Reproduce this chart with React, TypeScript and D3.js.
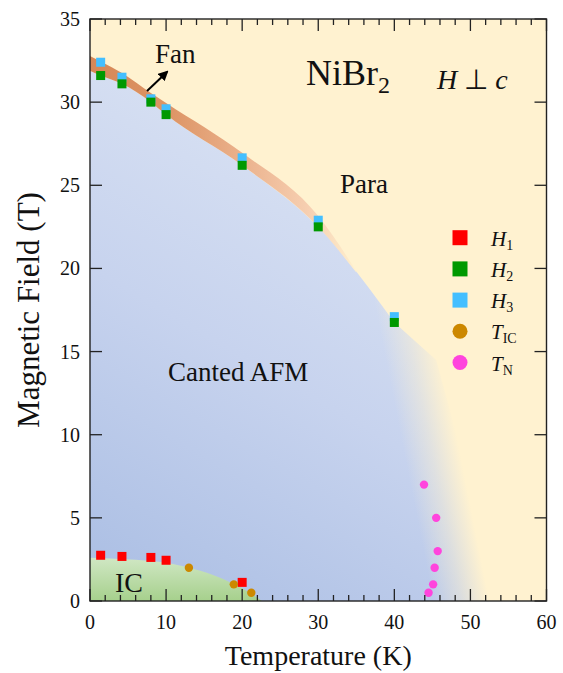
import React from 'react';
import * as d3 from 'd3';

const W = 563;
const H = 673;
const M = { left: 90, right: 16.5, top: 19, bottom: 72 };
const FONT = "'Liberation Serif', 'Times New Roman', serif";
const PARA = '#FFF2D0';

const xTickLabels = [0, 10, 20, 30, 40, 50, 60];
const yTickLabels = [0, 5, 10, 15, 20, 25, 30, 35];

// measured points (Temperature K, Field T)
const h1T = [1.4, 4.2, 8, 10, 20];
const h1H = [2.75, 2.68, 2.62, 2.45, 1.12];
const h23T = [1.4, 4.2, 8, 10, 20, 30, 40];
const h2H = [31.6, 31.1, 30.0, 29.25, 26.2, 22.5, 16.75];
const h3H = [32.4, 31.5, 30.2, 29.6, 26.65, 22.9, 17.1];
const ticT = [13, 18.9, 21.2];
const ticH = [2.0, 1.0, 0.5];
const tnT = [43.9, 45.5, 45.7, 45.3, 45.1, 44.5];
const tnH = [7, 5, 3, 2, 1, 0.5];

// phase boundaries
const afmTopT = [-1, 1.4, 4.2, 8, 10, 20, 30, 40];
const afmTopH = [32.1, 31.6, 31.1, 30.0, 29.25, 26.2, 22.5, 16.75];
const afmEdgeT = [45.5, 50, 55, 56, -1];
const afmEdgeH = [14.5, 7, 0, -1, -1];
// line where the canted phase has fully faded into the paramagnetic colour
const fadeEndT = [46, 52.5];
const fadeEndH = [15, 0];
const fanT = [-1, 1.4, 4.2, 8, 10, 20, 30, 35];
const fanLo = [32.1, 31.6, 31.1, 30.0, 29.25, 26.2, 22.5, 19.75];
const fanHi = [33.0, 32.45, 31.75, 30.55, 29.95, 26.95, 23.15, 19.85];
const icT = [-1, 4, 8, 10, 13, 16, 19, 21, 22.6];
const icH = [2.62, 2.52, 2.4, 2.3, 2.0, 1.6, 1.0, 0.5, 0];
const icBaseT = [22.6, -1];
const icBaseH = [-1, -1];

const legendItems = [
  { main: 'H', sub: '1', color: '#FF0000', shape: 'square' },
  { main: 'H', sub: '2', color: '#009900', shape: 'square' },
  { main: 'H', sub: '3', color: '#44BFFF', shape: 'square' },
  { main: 'T', sub: 'IC', color: '#CC8800', shape: 'circle' },
  { main: 'T', sub: 'N', color: '#FF44DD', shape: 'circle' },
];

export default function App() {
  const x = d3.scaleLinear().domain([0, 60]).range([M.left, W - M.right]);
  const y = d3.scaleLinear().domain([0, 35]).range([H - M.bottom, M.top]);
  const pw = W - M.left - M.right;
  const ph = H - M.top - M.bottom;

  const pts = (ts: number[], hs: number[]) => ts.map((t, i) => [x(t), y(hs[i])] as [number, number]);
  const smooth = d3.line().curve(d3.curveMonotoneX);
  const lin = (p: [number, number][]) => p.map((q) => `L${q[0]},${q[1]}`).join('');

  const afmPath = smooth(pts(afmTopT, afmTopH)) + lin(pts(afmEdgeT, afmEdgeH)) + 'Z';
  const fanPath = d3
    .area<number>()
    .curve(d3.curveMonotoneX)
    .x((t) => x(t))
    .y0((_, i) => y(fanLo[i]))
    .y1((_, i) => y(fanHi[i]))(fanT) as string;
  const icPath = smooth(pts(icT, icH)) + lin(pts(icBaseT, icBaseH)) + 'Z';

  // fade direction perpendicular to the right edge of the AFM phase
  const p1 = [x(fadeEndT[0]), y(fadeEndH[0])];
  const p2 = [x(fadeEndT[1]), y(fadeEndH[1])];
  const dx = p2[0] - p1[0];
  const dy = p2[1] - p1[1];
  const len = Math.hypot(dx, dy);
  const nx = dy / len;
  const ny = -dx / len;
  const mid = [(p1[0] + p2[0]) / 2, (p1[1] + p2[1]) / 2];
  const f1 = [mid[0] - 55 * nx, mid[1] - 55 * ny];
  const f2 = [mid[0], mid[1]];

  const minorX = d3.range(0, 61, 2);
  const majorY = yTickLabels;

  const sq = 9;
  const lx = 460;
  const ly0 = 237.7;
  const lstep = 31.2;

  return (
    <svg width={W} height={H} style={{ display: 'block', position: 'absolute', left: 0, top: 0 }} fontFamily={FONT}>
      <defs>
        <clipPath id="plot">
          <rect x={M.left} y={M.top} width={pw} height={ph} />
        </clipPath>
        <linearGradient id="blueG" gradientUnits="userSpaceOnUse" x1={x(0)} y1={y(0)} x2={x(38)} y2={y(30)}>
          <stop offset="0" stopColor="#A9BDE3" />
          <stop offset="0.5" stopColor="#C7D3EE" />
          <stop offset="1" stopColor="#DDE5F4" />
        </linearGradient>
        <linearGradient id="fadeG" gradientUnits="userSpaceOnUse" x1={f1[0]} y1={f1[1]} x2={f2[0]} y2={f2[1]}>
          <stop offset="0" stopColor={PARA} stopOpacity="0" />
          <stop offset="0.5" stopColor={PARA} stopOpacity="0.45" />
          <stop offset="1" stopColor={PARA} stopOpacity="1" />
        </linearGradient>
        <linearGradient id="fanG" gradientUnits="userSpaceOnUse" x1={x(0)} y1={0} x2={x(35.5)} y2={0}>
          <stop offset="0" stopColor="#D68756" />
          <stop offset="0.3" stopColor="#DD9566" />
          <stop offset="0.55" stopColor="#EAB08A" />
          <stop offset="0.8" stopColor="#F6CEB0" />
          <stop offset="1" stopColor={PARA} />
        </linearGradient>
        <linearGradient id="icG" gradientUnits="userSpaceOnUse" x1={0} y1={y(2.6)} x2={0} y2={y(0)}>
          <stop offset="0" stopColor="#D0E7C4" />
          <stop offset="1" stopColor="#A6D08C" />
        </linearGradient>
        <marker id="arrow" viewBox="0 0 10 10" refX="8" refY="5" markerWidth="5" markerHeight="5" orient="auto">
          <path d="M0,0 L10,5 L0,10 Z" fill="#000" />
        </marker>
      </defs>

      <g clipPath="url(#plot)">
        <rect x={M.left} y={M.top} width={pw} height={ph} fill={PARA} />
        <path d={afmPath} fill="url(#blueG)" />
        <rect x={M.left} y={M.top} width={pw} height={ph} fill="url(#fadeG)" />
        <path d={fanPath} fill="url(#fanG)" />
        <path d={icPath} fill="url(#icG)" />
      </g>

      {/* data */}
      {h1T.map((t, i) => (
        <rect key={'h1' + i} x={x(t) - sq / 2} y={y(h1H[i]) - sq / 2} width={sq} height={sq} fill="#FF0000" />
      ))}
      {h23T.map((t, i) => (
        <rect key={'h3' + i} x={x(t) - sq / 2} y={y(h3H[i]) - sq / 2} width={sq} height={sq} fill="#44BFFF" />
      ))}
      {h23T.map((t, i) => (
        <rect key={'h2' + i} x={x(t) - sq / 2} y={y(h2H[i]) - sq / 2} width={sq} height={sq} fill="#009900" />
      ))}
      {ticT.map((t, i) => (
        <circle key={'tic' + i} cx={x(t)} cy={y(ticH[i])} r={4.2} fill="#CC8800" />
      ))}
      {tnT.map((t, i) => (
        <circle key={'tn' + i} cx={x(t)} cy={y(tnH[i])} r={4.2} fill="#FF44DD" />
      ))}

      {/* frame and ticks */}
      <rect x={M.left} y={M.top} width={pw} height={ph} fill="none" stroke="#222" strokeWidth={1.4} />
      {minorX.map((t) => {
        const L = t % 10 === 0 ? 12 : 6;
        return (
          <g key={'xt' + t} stroke="#222" strokeWidth={1.3}>
            <line x1={x(t)} x2={x(t)} y1={y(0)} y2={y(0) - L} />
            <line x1={x(t)} x2={x(t)} y1={y(35)} y2={y(35) + L} />
          </g>
        );
      })}
      {majorY.map((v) => (
        <g key={'yt' + v} stroke="#222" strokeWidth={1.3}>
          <line x1={x(0)} x2={x(0) + 12} y1={y(v)} y2={y(v)} />
          <line x1={x(60)} x2={x(60) - 12} y1={y(v)} y2={y(v)} />
        </g>
      ))}
      {xTickLabels.map((t) => (
        <text key={'xl' + t} x={x(t)} y={629} fontSize={20} textAnchor="middle" fill="#111">{t}</text>
      ))}
      {yTickLabels.map((v) => (
        <text key={'yl' + v} x={80} y={y(v) + 7} fontSize={20} textAnchor="end" fill="#111">{v}</text>
      ))}
      <text x={x(30)} y={665} fontSize={28} textAnchor="middle" fill="#111">Temperature (K)</text>
      <text transform={`translate(39,${y(17.5)}) rotate(-90)`} fontSize={31} textAnchor="middle" fill="#111">Magnetic Field (T)</text>

      {/* annotations */}
      <text x={306} y={85} fontSize={36} fill="#111">NiBr<tspan dy={8} fontSize={24}>2</tspan></text>
      <text x={437} y={89} fontSize={28} fill="#111">
        <tspan fontStyle="italic">H</tspan> ⊥ <tspan fontStyle="italic">c</tspan>
      </text>
      <text x={155} y={63} fontSize={27} fill="#111">Fan</text>
      <line x1={147} y1={91} x2={167} y2={72} stroke="#000" strokeWidth={2} markerEnd="url(#arrow)" />
      <text x={340} y={193} fontSize={27} fill="#111">Para</text>
      <text x={168} y={381} fontSize={27} fill="#111">Canted AFM</text>
      <text x={115} y={592} fontSize={28} fill="#111">IC</text>

      {/* legend */}
      {legendItems.map((it, i) => {
        const cy = ly0 + i * lstep;
        return (
          <g key={'lg' + i}>
            {it.shape === 'square' ? (
              <rect x={lx - 7.5} y={cy - 7.5} width={15} height={15} fill={it.color} />
            ) : (
              <circle cx={lx} cy={cy} r={7.5} fill={it.color} />
            )}
            <text x={491} y={cy + 8} fontSize={21} fill="#111">
              <tspan fontStyle="italic">{it.main}</tspan>
              <tspan dy={4} fontSize={14}>{it.sub}</tspan>
            </text>
          </g>
        );
      })}
    </svg>
  );
}
